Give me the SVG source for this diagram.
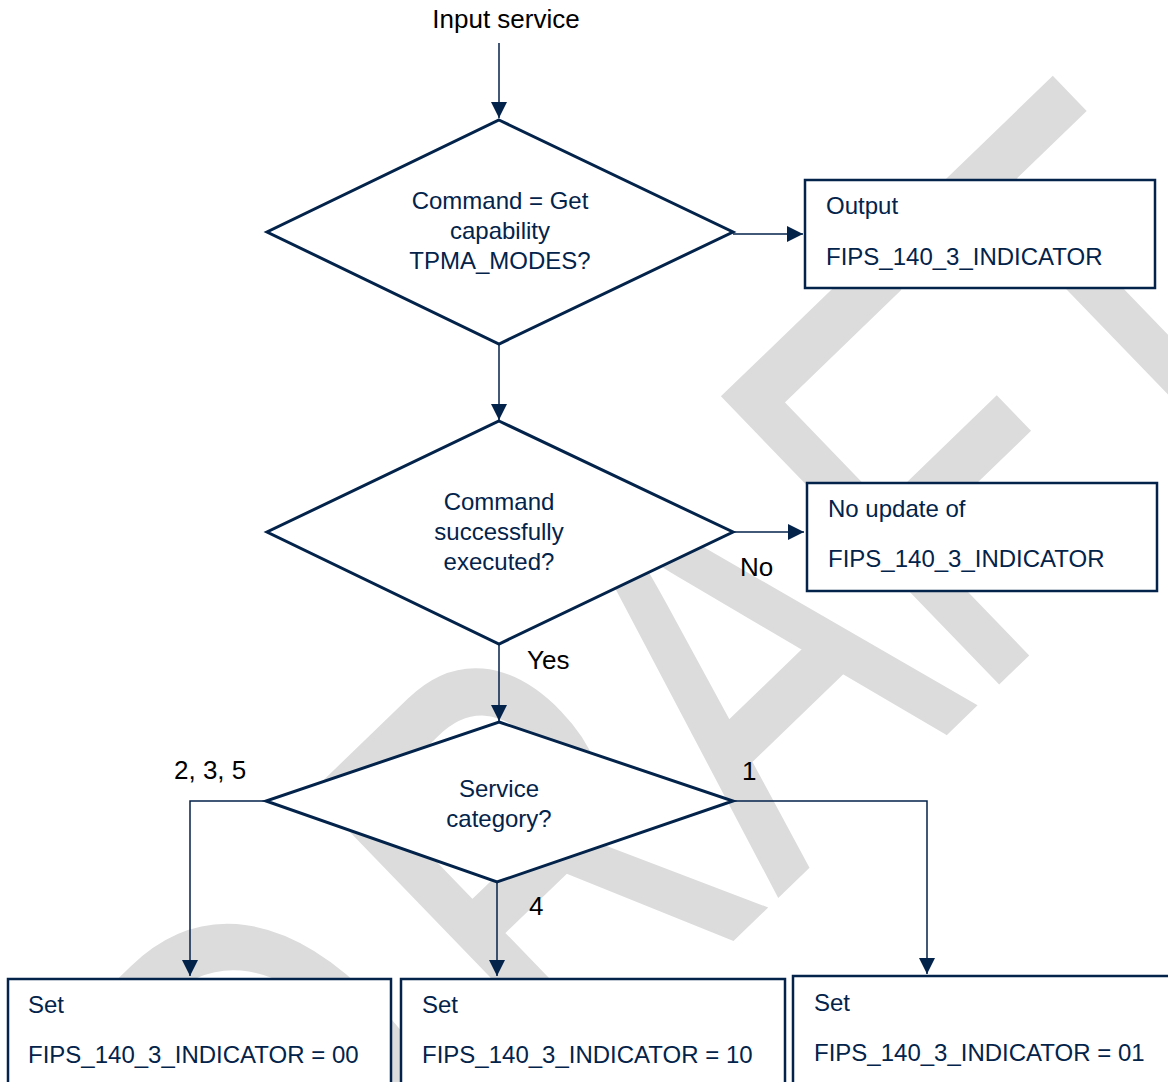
<svg xmlns="http://www.w3.org/2000/svg" width="1168" height="1082" viewBox="0 0 1168 1082">
<defs>
<style>
.wm{font-family:"Liberation Sans",Arial,sans-serif;font-size:575px;fill:#dcdcdc;stroke:#dcdcdc;stroke-width:5;stroke-linejoin:miter}
.shape{fill:#ffffff;stroke:#03234B;stroke-width:3}
.box{fill:#ffffff;stroke:#03234B;stroke-width:2.5}
.nt{font-family:"Liberation Sans",Arial,sans-serif;font-size:24px;fill:#03234B}
.lbl{font-family:"Liberation Sans",Arial,sans-serif;font-size:26px;fill:#000000}
.conn{fill:none;stroke:#03234B;stroke-width:1.5}
</style>
<marker id="arr" viewBox="0 0 16 16" refX="16" refY="8" markerWidth="16" markerHeight="16" markerUnits="userSpaceOnUse" orient="auto">
<path d="M0,0 L16,8 L0,16 Z" fill="#03234B"/>
</marker>
</defs>
<rect width="1168" height="1082" fill="#ffffff"/>
<g id="watermark">
<text class="wm" transform="translate(352,1306) rotate(-44) scale(0.713,1)" y="0"><tspan x="-70">D</tspan><tspan x="415">RAFT</tspan></text>
</g>
<g id="connectors">
<path class="conn" d="M499,43 V118" marker-end="url(#arr)"/>
<path class="conn" d="M499,344 V420" marker-end="url(#arr)"/>
<path class="conn" d="M733,234 H803" marker-end="url(#arr)"/>
<path class="conn" d="M733,532 H804" marker-end="url(#arr)"/>
<path class="conn" d="M499,645 V721" marker-end="url(#arr)"/>
<path class="conn" d="M267,801 H190 V976" marker-end="url(#arr)"/>
<path class="conn" d="M497,882 V976" marker-end="url(#arr)"/>
<path class="conn" d="M733,801 H927 V974" marker-end="url(#arr)"/>
</g>
<g id="input-label"><text class="lbl" x="506" y="28" text-anchor="middle">Input service</text></g>
<g id="d1">
<polygon class="shape" points="499,120 733,232 499,344 267,232"/>
<text class="nt" text-anchor="middle" x="500" y="209">Command = Get</text>
<text class="nt" text-anchor="middle" x="500" y="239">capability</text>
<text class="nt" text-anchor="middle" x="500" y="269">TPMA_MODES?</text>
</g>
<g id="d2">
<polygon class="shape" points="499,421 733,532 499,644 267,532"/>
<text class="nt" text-anchor="middle" x="499" y="510">Command</text>
<text class="nt" text-anchor="middle" x="499" y="540">successfully</text>
<text class="nt" text-anchor="middle" x="499" y="570">executed?</text>
</g>
<g id="d3">
<polygon class="shape" points="499,722 733,801 497,882 266,801"/>
<text class="nt" text-anchor="middle" x="499" y="797">Service</text>
<text class="nt" text-anchor="middle" x="499" y="827">category?</text>
</g>
<g id="output">
<rect class="box" x="805" y="180" width="350" height="108"/>
<text class="nt" x="826" y="214">Output</text>
<text class="nt" x="826" y="265">FIPS_140_3_INDICATOR</text>
</g>
<g id="noupdate">
<rect class="box" x="807" y="483" width="350" height="108"/>
<text class="nt" x="828" y="517">No update of</text>
<text class="nt" x="828" y="567">FIPS_140_3_INDICATOR</text>
</g>
<g id="set00">
<rect class="box" x="8" y="979" width="383" height="120"/>
<text class="nt" x="28" y="1013">Set</text>
<text class="nt" x="28" y="1063">FIPS_140_3_INDICATOR = 00</text>
</g>
<g id="set10">
<rect class="box" x="401" y="979" width="384" height="120"/>
<text class="nt" x="422" y="1013">Set</text>
<text class="nt" x="422" y="1063">FIPS_140_3_INDICATOR = 10</text>
</g>
<g id="set01">
<rect class="box" x="793" y="976" width="400" height="120"/>
<text class="nt" x="814" y="1011">Set</text>
<text class="nt" x="814" y="1061">FIPS_140_3_INDICATOR = 01</text>
</g>
<g id="edge-labels">
<text class="lbl" x="740" y="576">No</text>
<text class="lbl" x="527" y="669">Yes</text>
<text class="lbl" x="174" y="779">2, 3, 5</text>
<text class="lbl" x="742" y="780">1</text>
<text class="lbl" x="529" y="915">4</text>
</g>
</svg>
